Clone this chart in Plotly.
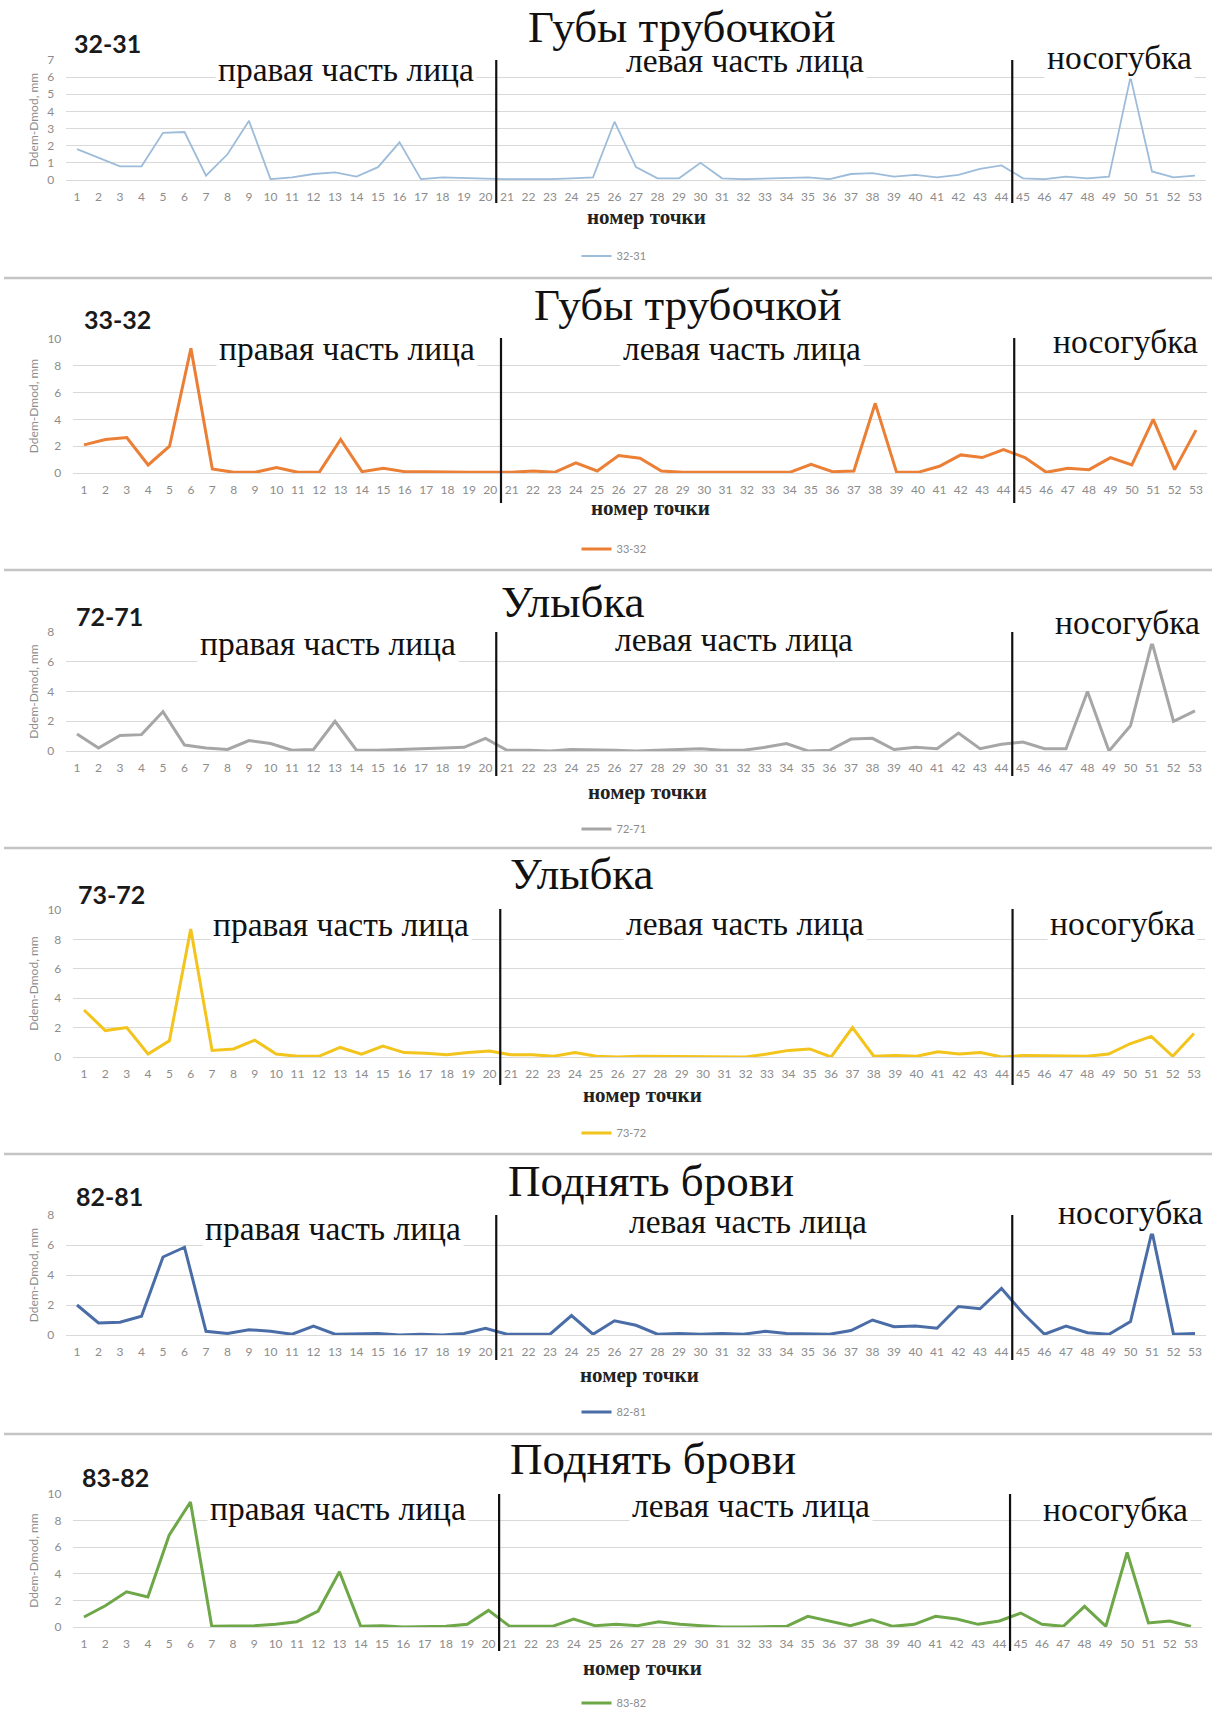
import plotly.graph_objects as go

# ---- data: Ddem-Dmod (mm) per landmark point, six point pairs ----
points = list(range(1, 54))
tick_labels = [str(p) for p in points]

s_32_31 = [1.8, 1.3, 0.8, 0.8, 2.75, 2.8, 0.25, 1.5, 3.45, 0.05,
           0.15, 0.35, 0.45, 0.2, 0.75, 2.2, 0.05, 0.15, 0.1, 0.08,
           0.05, 0.05, 0.05, 0.1, 0.15, 3.4, 0.75, 0.1, 0.1, 1.0,
           0.1, 0.05, 0.08, 0.1, 0.15, 0.05, 0.35, 0.4, 0.2, 0.3,
           0.15, 0.3, 0.65, 0.85, 0.1, 0.05, 0.2, 0.1, 0.2, 6.0,
           0.5, 0.15, 0.25]

s_33_32 = [2.1, 2.5, 2.65, 0.6, 2.0, 9.3, 0.3, 0.05, 0.05, 0.4,
           0.05, 0.05, 2.5, 0.1, 0.35, 0.1, 0.1, 0.05, 0.05, 0.05,
           0.05, 0.15, 0.05, 0.75, 0.15, 1.3, 1.1, 0.15, 0.05, 0.05,
           0.05, 0.08, 0.08, 0.05, 0.65, 0.1, 0.15, 5.2, 0.05, 0.05,
           0.5, 1.35, 1.15, 1.75, 1.15, 0.05, 0.35, 0.25, 1.15, 0.6,
           4.0, 0.25, 3.2]

s_72_71 = [1.15, 0.2, 1.05, 1.1, 2.65, 0.4, 0.2, 0.1, 0.7, 0.5,
           0.05, 0.1, 2.0, 0.05, 0.05, 0.1, 0.1, 0.2, 0.25, 0.85,
           0.05, 0.05, 0.0, 0.1, 0.1, 0.05, 0.0, 0.05, 0.1, 0.15,
           0.05, 0.05, 0.25, 0.5, 0.0, 0.05, 0.8, 0.85, 0.1, 0.25,
           0.15, 1.2, 0.15, 0.45, 0.6, 0.15, 0.15, 4.0, 0.0, 1.7,
           7.3, 2.0, 2.7]

s_73_72 = [3.2, 1.8, 2.0, 0.2, 1.1, 8.7, 0.45, 0.55, 1.15, 0.2,
           0.05, 0.05, 0.65, 0.2, 0.75, 0.3, 0.25, 0.15, 0.3, 0.4,
           0.15, 0.15, 0.05, 0.3, 0.05, 0.0, 0.05, 0.05, 0.05, 0.05,
           0.05, 0.0, 0.2, 0.45, 0.55, 0.0, 2.0, 0.05, 0.1, 0.05,
           0.35, 0.2, 0.3, 0.0, 0.1, 0.1, 0.1, 0.05, 0.2, 0.9,
           1.4, 0.05, 1.6]

s_82_81 = [2.0, 0.8, 0.85, 1.25, 5.2, 5.85, 0.25, 0.1, 0.35, 0.25,
           0.05, 0.6, 0.05, 0.1, 0.1, 0.0, 0.05, 0.0, 0.1, 0.45,
           0.05, 0.05, 0.05, 1.3, 0.05, 0.95, 0.65, 0.05, 0.1, 0.05,
           0.1, 0.05, 0.25, 0.1, 0.05, 0.05, 0.3, 1.0, 0.55, 0.6,
           0.45, 1.9, 1.75, 3.1, 1.45, 0.05, 0.6, 0.15, 0.05, 0.9,
           6.9, 0.05, 0.1]

s_83_82 = [0.75, 1.6, 2.65, 2.25, 6.9, 9.4, 0.05, 0.05, 0.1, 0.2,
           0.4, 1.2, 4.15, 0.05, 0.1, 0.0, 0.05, 0.05, 0.2, 1.25,
           0.05, 0.05, 0.05, 0.6, 0.1, 0.2, 0.1, 0.4, 0.2, 0.1,
           0.0, 0.0, 0.05, 0.05, 0.8, 0.45, 0.1, 0.55, 0.05, 0.2,
           0.8, 0.6, 0.2, 0.45, 1.05, 0.2, 0.05, 1.55, 0.05, 5.6,
           0.3, 0.45, 0.05]

series_names = ["32-31", "33-32", "72-71", "73-72", "82-81", "83-82"]
series_values = [s_32_31, s_33_32, s_72_71, s_73_72, s_82_81, s_83_82]
exercise_titles = ["Губы трубочкой", "Губы трубочкой", "Улыбка", "Улыбка",
                   "Поднять брови", "Поднять брови"]
y_max = [7, 10, 8, 10, 8, 10]
y_step = [1, 2, 2, 2, 2, 2]
region_names = ["правая часть лица", "левая часть лица", "носогубка"]
region_bounds = [20.5, 44.5]   # between points 20|21 and 44|45

# ---- styling / page geometry (pixels on a 1212 x 1712 page) ----
W, H = 1212, 1712
colors = ["#9dbcda", "#ea7f35", "#a6a6a6", "#f2c41c", "#4a6da8", "#6ea748"]
widths = [1.8, 3, 3, 3, 3, 3]

# plot area: x of first/last category centre, y of top gridline / zero line
geo = [
    dict(x1=77, x53=1195, top=60, zero=180, vl=(60, 203),
         title=(682, 27), tag=(72, 43), xt=(646, 217), leg=(614, 256),
         reg=[(346, 70), (745, 61), (1119, 57)]),
    dict(x1=84, x53=1196, top=339, zero=473, vl=(338, 503),
         title=(688, 305), tag=(82, 319), xt=(650, 508), leg=(614, 549),
         reg=[(347, 349), (742, 349), (1125, 341)]),
    dict(x1=77, x53=1195, top=632, zero=751, vl=(632, 776),
         title=(573, 602), tag=(74, 616), xt=(647, 792), leg=(614, 829),
         reg=[(328, 644), (734, 639), (1127, 623)]),
    dict(x1=84, x53=1194, top=910, zero=1057, vl=(909, 1085),
         title=(582, 874), tag=(76, 894), xt=(642, 1095), leg=(614, 1133),
         reg=[(341, 924), (745, 923), (1122, 923)]),
    dict(x1=77, x53=1195, top=1215, zero=1335, vl=(1215, 1360),
         title=(651, 1181), tag=(74, 1196), xt=(639, 1375), leg=(614, 1412),
         reg=[(333, 1228), (748, 1221), (1130, 1212)]),
    dict(x1=84, x53=1191, top=1494, zero=1627, vl=(1494, 1651),
         title=(653, 1459), tag=(80, 1477), xt=(642, 1668), leg=(614, 1703),
         reg=[(338, 1508), (751, 1505), (1115, 1509)]),
]
separators = [278, 570, 848, 1154, 1434]


def px(x):
    return x / W


def py(y):
    return 1 - y / H


SERIF = "Liberation Serif, Times New Roman, serif"
SANS = "Lato, Liberation Sans, Arial, sans-serif"
GRID = "#d9d9d9"
TICK = "#8c8c8c"

fig = go.Figure()
shapes = []
region_notes, heading_notes = [], []
layout_axes = {}

for i, (name, vals) in enumerate(zip(series_names, series_values)):
    g = geo[i]
    k = "" if i == 0 else str(i + 1)
    xa, ya = "x" + k, "y" + k
    leg = "legend" if i == 0 else "legend" + str(i + 1)
    sp = (g["x53"] - g["x1"]) / 52.0
    left, right = g["x1"] - sp / 2, g["x53"] + sp / 2

    fig.add_trace(go.Scatter(
        x=points, y=vals, mode="lines", name=name,
        line=dict(color=colors[i], width=widths[i]),
        xaxis=xa, yaxis=ya, legend=leg, showlegend=True,
    ))

    layout_axes["xaxis" + k] = dict(
        domain=[px(left), px(right)], anchor=ya, range=[0.5, 53.5],
        tickmode="array", tickvals=points, ticktext=tick_labels,
        showgrid=False, zeroline=False, showline=False, ticks="",
        tickfont=dict(family=SANS, size=12, color=TICK), tickangle=0,
        ticklabelstandoff=8, fixedrange=True,
    )
    layout_axes["yaxis" + k] = dict(
        domain=[py(g["zero"]), py(g["top"])], anchor=xa,
        range=[0, y_max[i]], dtick=y_step[i], tick0=0,
        showgrid=True, gridcolor=GRID, gridwidth=1,
        zeroline=True, zerolinecolor=GRID, zerolinewidth=1,
        showline=False, ticks="",
        tickfont=dict(family=SANS, size=12, color=TICK),
        ticklabelstandoff=11,
        title=dict(text="Ddem-Dmod, mm", font=dict(family=SANS, size=12, color=TICK),
                   standoff=6),
        fixedrange=True,
    )

    # section boundaries
    for b in region_bounds:
        shapes.append(dict(type="line", xref=xa, yref="paper",
                           x0=b, x1=b, y0=py(g["vl"][0]), y1=py(g["vl"][1]),
                           line=dict(color="#111111", width=2.2), layer="above"))

    # face regions (white boxes mask the gridlines behind the words)
    for rname, (rx, ry) in zip(region_names, g["reg"]):
        region_notes.append(dict(text=rname, xref="paper", yref="paper",
                                 x=px(rx), y=py(ry), xanchor="center", yanchor="middle",
                                 showarrow=False, bgcolor="white", borderpad=2,
                                 font=dict(family=SERIF, size=33.5, color="#111111")))

    # exercise heading
    heading_notes.append(dict(text=exercise_titles[i], xref="paper", yref="paper",
                              x=px(g["title"][0]), y=py(g["title"][1]),
                              xanchor="center", yanchor="middle", showarrow=False,
                              font=dict(family=SERIF, size=45, color="#111111")))
    # series tag
    heading_notes.append(dict(text="<b>" + name + "</b>", xref="paper", yref="paper",
                              x=px(g["tag"][0]), y=py(g["tag"][1]),
                              xanchor="left", yanchor="middle", showarrow=False,
                              font=dict(family=SANS, size=25, color="#1a1a1a")))
    # x axis title
    heading_notes.append(dict(text="<b>номер точки</b>", xref="paper", yref="paper",
                              x=px(g["xt"][0]), y=py(g["xt"][1]),
                              xanchor="center", yanchor="middle", showarrow=False,
                              font=dict(family=SERIF, size=21, color="#222222")))

    layout_axes[leg] = dict(
        x=px(g["leg"][0]), y=py(g["leg"][1]), xanchor="center", yanchor="middle",
        orientation="h", bgcolor="rgba(0,0,0,0)", itemwidth=30,
        font=dict(family=SANS, size=11, color=TICK),
    )

for s in separators:
    shapes.append(dict(type="line", xref="paper", yref="paper",
                       x0=px(4), x1=1, y0=py(s), y1=py(s),
                       line=dict(color="#c4c4c4", width=2.5)))

fig.update_layout(
    width=W, height=H,
    margin=dict(l=0, r=0, t=0, b=0, autoexpand=False),
    paper_bgcolor="white", plot_bgcolor="white",
    shapes=shapes, annotations=region_notes + heading_notes, **layout_axes,
)

fig.write_html("out.html")
